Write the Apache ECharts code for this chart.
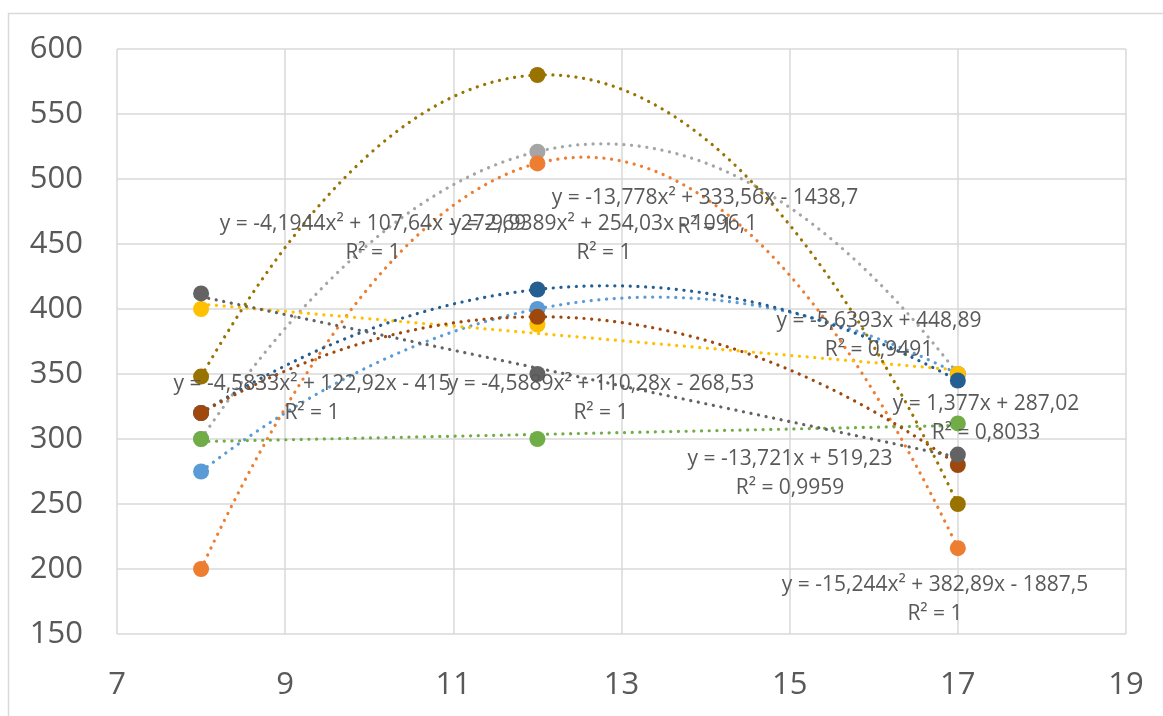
<!DOCTYPE html>
<html>
<head>
<meta charset="utf-8">
<script src="https://cdn.jsdelivr.net/npm/echarts@6/dist/echarts.min.js"></script>
<style>
  html, body { margin: 0; padding: 0; background: #ffffff; }
  #chart { width: 1163px; height: 716px; }
</style>
</head>
<body>
<div id="chart"></div>
<script>
// Measurement times (x) shared by every series
const xValues = [8, 12, 17];

// Observed values per series
const lightBlue = [275, 400, 350];
const gray      = [300, 521, 350];
const orange    = [200, 512, 216];
const gold      = [400, 388, 350];
const green     = [300, 300, 312];
const darkBlue  = [320, 415, 345];
const brown     = [320, 394, 280];
const darkGray  = [412, 350, 288];
const darkGold  = [348, 580, 250];

// Trendline coefficients, highest power first
const coefLightBlue = [-4.5833, 122.92, -415];
const coefGray      = [-9.9389, 254.03, -1096.1];
const coefOrange    = [-15.244, 382.89, -1887.5];
const coefGold      = [-5.6393, 448.89];
const coefGreen     = [1.377, 287.02];
const coefDarkBlue  = [-4.1944, 107.64, -272.69];
const coefBrown     = [-4.5889, 110.28, -268.53];
const coefDarkGray  = [-13.721, 519.23];
const coefDarkGold  = [-13.778, 333.56, -1438.7];

// Coefficients of determination
const r2LightBlue = '1';
const r2Gray      = '1';
const r2Orange    = '1';
const r2Gold      = '0,9491';
const r2Green     = '0,8033';
const r2DarkBlue  = '1';
const r2Brown     = '1';
const r2DarkGray  = '0,9959';
const r2DarkGold  = '1';

// Axis ticks
const xTicks = [7, 9, 11, 13, 15, 17, 19];
const yTicks = [150, 200, 250, 300, 350, 400, 450, 500, 550, 600];

const series = [
  { values: lightBlue, coef: coefLightBlue, r2: r2LightBlue, color: '#5B9BD5', label: [312, 385] },
  { values: gray,      coef: coefGray,      r2: r2Gray,      color: '#A5A5A5', label: [604, 225] },
  { values: orange,    coef: coefOrange,    r2: r2Orange,    color: '#ED7D31', label: [935, 586] },
  { values: gold,      coef: coefGold,      r2: r2Gold,      color: '#FFC000', label: [879, 322] },
  { values: green,     coef: coefGreen,     r2: r2Green,     color: '#70AD47', label: [986, 405] },
  { values: darkBlue,  coef: coefDarkBlue,  r2: r2DarkBlue,  color: '#255E91', label: [373, 225] },
  { values: brown,     coef: coefBrown,     r2: r2Brown,     color: '#9E480E', label: [601, 385] },
  { values: darkGray,  coef: coefDarkGray,  r2: r2DarkGray,  color: '#636363', label: [790, 460] },
  { values: darkGold,  coef: coefDarkGold,  r2: r2DarkGold,  color: '#997300', label: [705, 199] }
];

function evalPoly(coef, x) {
  let y = 0;
  for (const c of coef) y = y * x + c;
  return y;
}

function fmt(v) {
  return String(Math.abs(v)).replace('.', ',');
}

function equationText(coef) {
  const n = coef.length - 1;
  let s = 'y = ';
  coef.forEach((c, i) => {
    const p = n - i;
    const term = fmt(c) + (p === 2 ? 'x²' : p === 1 ? 'x' : '');
    if (i === 0) s += (c < 0 ? '-' : '') + term;
    else s += (c < 0 ? ' - ' : ' + ') + term;
  });
  return s;
}

const xMin = xValues[0], xMax = xValues[xValues.length - 1];
const lineSeries = series.map(s => {
  const pts = [];
  for (let i = 0; i <= 180; i++) {
    const x = xMin + (xMax - xMin) * i / 180;
    pts.push([x, evalPoly(s.coef, x)]);
  }
  return {
    type: 'line',
    data: pts,
    showSymbol: false,
    symbol: 'none',
    smooth: false,
    silent: true,
    z: 2,
    lineStyle: { color: s.color, width: 3.2, type: [0.1, 7.6], cap: 'round' }
  };
});

const scatterSeries = series.map(s => ({
  type: 'scatter',
  data: xValues.map((x, i) => [x, s.values[i]]),
  symbol: 'circle',
  symbolSize: 16,
  z: 3,
  itemStyle: { color: s.color, opacity: 1 }
}));

const chart = echarts.init(document.getElementById('chart'), null, { renderer: 'canvas' });

const textColor = '#595959';
const fontFamily = '"Open Sans", "Liberation Sans", sans-serif';

chart.setOption({
  backgroundColor: '#ffffff',
  animation: false,
  grid: { left: 117, right: 37, top: 49, bottom: 82, containLabel: false },
  xAxis: {
    type: 'value',
    min: xTicks[0],
    max: xTicks[xTicks.length - 1],
    interval: 2,
    axisLine: { show: false },
    axisTick: { show: false },
    axisLabel: { color: textColor, fontSize: 31, fontFamily: fontFamily, margin: 36 },
    splitLine: { show: true, lineStyle: { color: '#D9D9D9', width: 1.5 } }
  },
  yAxis: {
    type: 'value',
    min: yTicks[0],
    max: yTicks[yTicks.length - 1],
    interval: 50,
    axisLine: { show: false },
    axisTick: { show: false },
    axisLabel: { color: textColor, fontSize: 31, fontFamily: fontFamily, margin: 34 },
    splitLine: { show: true, lineStyle: { color: '#D9D9D9', width: 1.5 } }
  },
  graphic: [
    {
      type: 'rect',
      shape: { x: 8.5, y: 13.5, width: 1300, height: 800 },
      style: { fill: 'none', stroke: '#D9D9D9', lineWidth: 1.5 },
      silent: true,
      z: -1
    }
  ].concat(series.map(s => ({
    type: 'text',
    x: s.label[0],
    y: s.label[1] - 15,
    z: 100,
    silent: true,
    style: {
      text: equationText(s.coef) + '\nR² = ' + s.r2,
      fill: textColor,
      font: '21px ' + fontFamily,
      align: 'center',
      verticalAlign: 'top',
      lineHeight: 29
    }
  }))),
  series: lineSeries.concat(scatterSeries)
});
</script>
</body>
</html>
